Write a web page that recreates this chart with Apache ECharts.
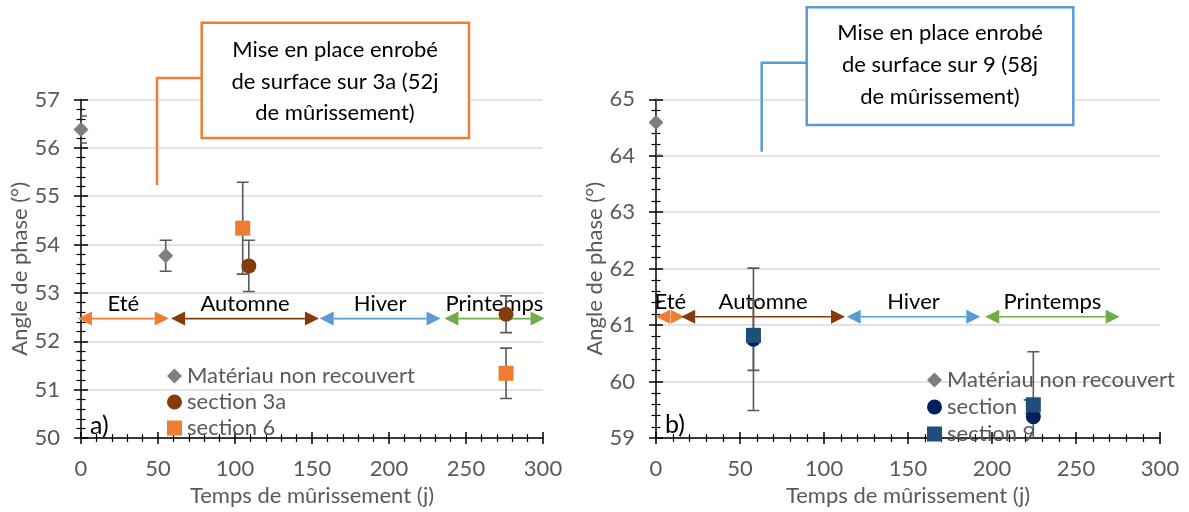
<!DOCTYPE html>
<html>
<head>
<meta charset="utf-8">
<script src="https://cdn.jsdelivr.net/npm/echarts@6/dist/echarts.min.js"></script>
<style>
  html, body { margin: 0; padding: 0; background: #fff; }
  #chart { width: 1189px; height: 512px; }
</style>
</head>
<body>
<div id="chart"></div>
<script>
// données : [temps (j), angle (°), erreur]
var matA = [[0, 56.38, 0.28], [55, 53.77, 0.32]];
var sec3a = [[109, 53.56, 0.53], [276, 52.56, 0.38]];
var sec6 = [[105, 54.34, 0.95], [276, 51.34, 0.52]];

var matB = [[0, 64.59, 0.58]];
var sec7 = [[58, 60.75, 1.26], [224.6, 59.38, 0]];
var sec9 = [[58, 60.82, 0.62], [224.6, 59.59, 0.94]];

// saisons : début, fin
var seasonNames = ['Eté', 'Automne', 'Hiver', 'Printemps'];
var seasonColors = ['#ED7D31', '#843C0C', '#5B9BD5', '#70AD47'];
var seasonsA = [[-2, 57], [58.5, 154.5], [155, 233.5], [236, 301]];
var seasonsB = [[0, 17], [15, 112.5], [113.5, 193], [196, 276]];
var seasonYA = 52.47;
var seasonYB = 61.15;

var xMin = 0, xMax = 300, xStep = 50;
var yA = [50, 57], yB = [59, 65];

var FONT = 'Lato, "Noto Sans", sans-serif';
var FS = 22;
var GREY = '#595959';

var chart = echarts.init(document.getElementById('chart'));

function errRender(params, api) {
  var x = api.value(0), y = api.value(1), e = api.value(2);
  var t = api.coord([x, y + e]), b = api.coord([x, y - e]);
  var hw = 6, st = { stroke: GREY, lineWidth: 1.6 };
  return {
    type: 'group',
    children: [
      { type: 'line', shape: { x1: t[0], y1: t[1], x2: b[0], y2: b[1] }, style: st },
      { type: 'line', shape: { x1: t[0] - hw, y1: t[1], x2: t[0] + hw, y2: t[1] }, style: st },
      { type: 'line', shape: { x1: b[0] - hw, y1: b[1], x2: b[0] + hw, y2: b[1] }, style: st }
    ]
  };
}

function seasonRender(params, api) {
  var s = api.value(0), e = api.value(1), y = api.value(2), i = api.value(3);
  var p1 = api.coord([s, y]), p2 = api.coord([e, y]);
  var c = seasonColors[i];
  var hl = 14, hh = 7;
  return {
    type: 'group',
    children: [
      { type: 'line', shape: { x1: p1[0] + hl, y1: p1[1], x2: p2[0] - hl, y2: p2[1] }, style: { stroke: c, lineWidth: 1.6 } },
      { type: 'polygon', shape: { points: [[p1[0], p1[1]], [p1[0] + hl, p1[1] - hh], [p1[0] + hl, p1[1] + hh]] }, style: { fill: c } },
      { type: 'polygon', shape: { points: [[p2[0], p2[1]], [p2[0] - hl, p2[1] - hh], [p2[0] - hl, p2[1] + hh]] }, style: { fill: c } },
      { type: 'text', x: (p1[0] + p2[0]) / 2, y: p1[1] - 15,
        style: { text: seasonNames[i], fill: '#000', font: FS + 'px ' + FONT, align: 'center', verticalAlign: 'middle' } }
    ]
  };
}

function seasonData(arr, y) {
  return arr.map(function (d, i) { return [d[0], d[1], y, i]; });
}
function withErr(arr) {
  return arr.filter(function (d) { return d[2] > 0; });
}

function mainX(g) {
  return {
    gridIndex: g, type: 'value', min: xMin, max: xMax, interval: xStep,
    name: 'Temps de mûrissement (j)', nameLocation: 'middle', nameGap: 39,
    nameTextStyle: { color: GREY, fontSize: FS, fontFamily: FONT },
    axisLine: { show: true, lineStyle: { color: '#000', width: 1.5 } },
    axisTick: { show: true, length: 6, lineStyle: { color: '#000', width: 1.5 } },
    minorTick: { show: true, splitNumber: 5, length: 4, lineStyle: { color: '#000', width: 1.2 } },
    axisLabel: { color: GREY, fontSize: FS, fontFamily: FONT, margin: 20 },
    splitLine: { show: false }
  };
}
function innerX(g) {
  return {
    gridIndex: g, type: 'value', min: xMin, max: xMax, interval: xStep, position: 'bottom',
    axisLine: { show: false },
    axisTick: { show: true, inside: true, length: 6, lineStyle: { color: '#000', width: 1.5 } },
    minorTick: { show: true, splitNumber: 5, length: 4, lineStyle: { color: '#000', width: 1.2 } },
    axisLabel: { show: false }, splitLine: { show: false }
  };
}
function mainY(g, r) {
  return {
    gridIndex: g, type: 'value', min: r[0], max: r[1], interval: 1, position: 'left',
    name: 'Angle de phase (°)', nameLocation: 'middle', nameGap: 48,
    nameTextStyle: { color: GREY, fontSize: FS, fontFamily: FONT },
    axisLine: { show: true, lineStyle: { color: '#000', width: 1.5 } },
    axisTick: { show: true, length: 7, lineStyle: { color: '#000', width: 1.5 } },
    minorTick: { show: true, splitNumber: 5, length: 4.5, lineStyle: { color: '#000', width: 1.2 } },
    axisLabel: { color: GREY, fontSize: FS, fontFamily: FONT, margin: 21 },
    splitLine: { show: true, lineStyle: { color: '#D9D9D9', width: 1.5 } }
  };
}
function innerY(g, r) {
  return {
    gridIndex: g, type: 'value', min: r[0], max: r[1], interval: 1, position: 'left', offset: 0,
    axisLine: { show: false },
    axisTick: { show: true, inside: true, length: 7, lineStyle: { color: '#000', width: 1.5 } },
    minorTick: { show: true, splitNumber: 5, length: 4.5, lineStyle: { color: '#000', width: 1.2 } },
    axisLabel: { show: false }, splitLine: { show: false }
  };
}

function scatter(name, data, xi, yi, symbol, size, color) {
  return {
    name: name, type: 'scatter', xAxisIndex: xi, yAxisIndex: yi,
    symbol: symbol, symbolSize: size, itemStyle: { color: color, opacity: 1 },
    data: data.map(function (d) { return [d[0], d[1]]; }), clip: false, z: 4
  };
}
function errSeries(name, data, xi, yi) {
  return {
    name: name, type: 'custom', xAxisIndex: xi, yAxisIndex: yi,
    renderItem: errRender, encode: { x: 0, y: 1 }, data: withErr(data), clip: true, z: 3
  };
}

var legendText = { color: GREY, fontSize: FS, fontFamily: FONT, lineHeight: 22 };

chart.setOption({
  animation: false,
  grid: [
    { left: 81, right: 646, top: 99.5, bottom: 67 },
    { left: 656, right: 29, top: 99.3, bottom: 64.7 }
  ],
  xAxis: [mainX(0), mainX(1), innerX(0), innerX(1)],
  yAxis: [mainY(0, yA), mainY(1, yB), innerY(0, yA), innerY(1, yB)],
  legend: [
    { orient: 'vertical', left: 167, top: 365, itemWidth: 15, itemHeight: 15, itemGap: 4, padding: 0, z: 1,
      textStyle: legendText,
      data: [{ name: 'Matériau non recouvert', icon: 'diamond' }, { name: 'section 3a', icon: 'circle' }, { name: 'section 6', icon: 'rect' }] },
    { orient: 'vertical', left: 927, top: 369, itemWidth: 15, itemHeight: 15, itemGap: 5, padding: 0, z: 1,
      textStyle: legendText,
      data: [{ name: 'Matériau non recouvert ', icon: 'diamond' }, { name: 'section 7', icon: 'circle' }, { name: 'section 9', icon: 'rect' }] }
  ],
  series: [
    { name: 'saisons a', type: 'custom', xAxisIndex: 0, yAxisIndex: 0, renderItem: seasonRender,
      encode: { x: [0, 1], y: 2 }, data: seasonData(seasonsA, seasonYA), clip: false, z: 2 },
    { name: 'saisons b', type: 'custom', xAxisIndex: 1, yAxisIndex: 1, renderItem: seasonRender,
      encode: { x: [0, 1], y: 2 }, data: seasonData(seasonsB, seasonYB), clip: false, z: 2 },

    errSeries('err mat a', matA, 0, 0),
    errSeries('err 3a', sec3a, 0, 0),
    errSeries('err 6', sec6, 0, 0),
    scatter('Matériau non recouvert', matA, 0, 0, 'diamond', 15, '#7F7F7F'),
    scatter('section 6', sec6, 0, 0, 'rect', 15, '#ED7D31'),
    scatter('section 3a', sec3a, 0, 0, 'circle', 15, '#843C0C'),

    errSeries('err mat b', matB, 1, 1),
    errSeries('err 7', sec7, 1, 1),
    errSeries('err 9', sec9, 1, 1),
    scatter('Matériau non recouvert ', matB, 1, 1, 'diamond', 15, '#7F7F7F'),
    scatter('section 7', sec7, 1, 1, 'circle', 15, '#002060'),
    scatter('section 9', sec9, 1, 1, 'rect', 15, '#1F4E79')
  ],
  graphic: [
    { type: 'polyline', shape: { points: [[201.7, 78], [157, 78], [157, 185]] }, style: { stroke: '#ED7D31', lineWidth: 2.5, fill: null }, z: 10 },
    { type: 'rect', shape: { x: 201.7, y: 22.7, width: 267.3, height: 115.3 }, style: { fill: '#fff', stroke: '#ED7D31', lineWidth: 2.5 }, z: 10 },
    { type: 'text', x: 335, y: 81.7, z: 11,
      style: { text: 'Mise en place enrobé\nde surface sur 3a (52j\nde mûrissement)', font: FS + 'px ' + FONT, fill: '#000', align: 'center', verticalAlign: 'middle', lineHeight: 31.7 } },

    { type: 'polyline', shape: { points: [[806.7, 62.7], [761.7, 62.7], [761.7, 151.7]] }, style: { stroke: '#5B9BD5', lineWidth: 2.5, fill: null }, z: 10 },
    { type: 'rect', shape: { x: 806.7, y: 7.3, width: 266.6, height: 117.7 }, style: { fill: '#fff', stroke: '#5B9BD5', lineWidth: 2.5 }, z: 10 },
    { type: 'text', x: 940, y: 65, z: 11,
      style: { text: 'Mise en place enrobé\nde surface sur 9 (58j\nde mûrissement)', font: FS + 'px ' + FONT, fill: '#000', align: 'center', verticalAlign: 'middle', lineHeight: 31.7 } },

    { type: 'text', left: 90, top: 413, style: { text: 'a)', font: '25px ' + FONT, fill: '#000' } },
    { type: 'text', left: 665, top: 412, style: { text: 'b)', font: '25px ' + FONT, fill: '#000' } }
  ]
});
</script>
</body>
</html>
